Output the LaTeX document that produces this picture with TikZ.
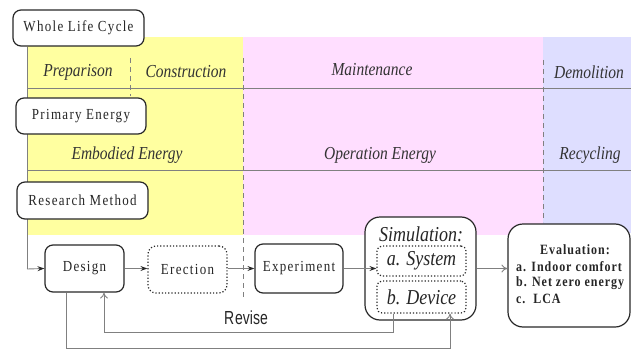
\documentclass[tikz,border=0pt]{standalone}
\usepackage{fontspec}
\usepackage{graphicx}
\setmainfont{Liberation Serif}
\newfontfamily\boxfont[LetterSpace=10]{Liberation Serif}
\newfontfamily\evalfont[LetterSpace=8]{Liberation Serif}
\newfontfamily\revfont{Liberation Sans}
\usetikzlibrary{arrows.meta}
\definecolor{bandY}{RGB}{255,255,160}
\definecolor{bandP}{RGB}{255,222,255}
\definecolor{bandB}{RGB}{222,222,255}
\definecolor{lineG}{RGB}{128,128,128}
\definecolor{boxB}{RGB}{40,40,40}
\newcommand\vst[1]{\scalebox{1}[1.18]{#1}}
\tikzset{
  lab/.style={font=\fontsize{15.5}{18}\selectfont\itshape, text=black!80},
  rbox/.style={draw=boxB, line width=1.2pt, fill=white, rounded corners=8pt,
    font=\boxfont\fontsize{13}{15}\selectfont, text=black!85, inner sep=0pt},
  dbox/.style={draw=boxB, line width=1.2pt, dotted, fill=white, rounded corners=8pt,
    font=\boxfont\fontsize{13}{15}\selectfont, text=black!85, inner sep=0pt},
  bandline/.style={draw=lineG, line width=0.9pt},
  dashline/.style={draw=lineG, line width=0.9pt, dash pattern=on 5pt off 4pt},
  conn/.style={draw=lineG, line width=0.9pt},
  arrS/.style={conn, -{Stealth[length=7pt,width=5pt,inset=2.5pt,color=boxB]}},
  arrO/.style={conn, -{To[length=6pt,width=8pt]}},
}
\begin{document}
\begin{tikzpicture}[x=1pt,y=-1pt]
\useasboundingbox (0,0) rectangle (631,350);
% bands
\fill[bandY] (27,37) rectangle (243,235);
\fill[bandP] (243,37) rectangle (543,235);
\fill[bandB] (543,37) rectangle (631,233);
% horizontal band lines
\draw[bandline] (27,88) -- (631,88);
\draw[bandline] (27,170) -- (631,170);
% dashed separators
\draw[dashline] (130,58) -- (130,96);
\draw[dashline] (243,58) -- (243,298);
\draw[dashline] (543,60) -- (543,222);
% labels
\node[lab] at (78,72) {\vst{Preparison}};
\node[lab] at (186,72) {\vst{Construction}};
\node[lab] at (372,70) {\vst{Maintenance}};
\node[lab] at (589,72) {\vst{Demolition}};
\node[lab] at (127,155) {\vst{Embodied Energy}};
\node[lab] at (380,155) {\vst{Operation Energy}};
\node[lab] at (590,155) {\vst{Recycling}};
% left spine
\coordinate (corner) at (27,269);
% boxes
\node[rbox, minimum width=131pt, minimum height=36pt] (wlc) at (78.5,28) {\vst{Whole Life Cycle}};
\draw[conn] (wlc.south -| corner) -- (corner);
\node[rbox, minimum width=130pt, minimum height=36pt] (pe) at (81,116) {\vst{Primary Energy}};
\node[rbox, minimum width=131pt, minimum height=37pt] (rm) at (82.5,200.5) {\vst{Research Method}};
\node[rbox, minimum width=79pt, minimum height=47pt] (design) at (84.5,268.5) {\vst{Design}};
\node[dbox, minimum width=79pt, minimum height=47pt] (erect) at (187.5,269.5) {\vst{Erection}};
\node[rbox, minimum width=88pt, minimum height=49pt] (exp) at (299,268.5) {\vst{Experiment}};
\node[rbox, rounded corners=15pt, minimum width=111pt, minimum height=103pt] (sim) at (420.5,268.5) {};
\node[font=\fontsize{18}{20}\selectfont\itshape, text=black!85, inner sep=0pt] (simlab) at (421,234) {\vst{Simulation:}};
\node[dbox, rounded corners=5pt, font=\fontsize{18}{20}\selectfont\itshape, minimum width=89pt, minimum height=30pt] (sys) at (421.5,261) {\vst{a. System}};
\node[dbox, rounded corners=5pt, font=\fontsize{18}{20}\selectfont\itshape, minimum width=89pt, minimum height=32pt] (dev) at (421.5,297) {\vst{b. Device}};
\node[rbox, rounded corners=15pt, minimum width=122pt, minimum height=103pt] (eval) at (569,275.5) {};
\node[font=\evalfont\bfseries\fontsize{12}{14}\selectfont, text=black!85, inner sep=0pt] (evt) at (575,250) {\vst{Evaluation:}};
\node[font=\evalfont\bfseries\fontsize{12}{14}\selectfont, text=black!85, inner sep=0pt, anchor=west] (ev1) at (516,267) {\vst{a. Indoor comfort}};
\node[font=\evalfont\bfseries\fontsize{12}{14}\selectfont, text=black!85, inner sep=0pt, anchor=west] (ev2) at (516,283) {\vst{b. Net zero energy}};
\node[font=\evalfont\bfseries\fontsize{12}{14}\selectfont, text=black!85, inner sep=0pt, anchor=west] (ev3) at (516,299) {\vst{c.\ \ LCA}};
% flow arrows
\draw[arrS] (corner) -- (design.west);
\draw[arrS] (design.east) -- (erect.west |- design.east);
\draw[arrS] (erect.east |- design.east) -- (exp.west |- design.east);
\draw[arrS] (exp.east) -- (sys.west |- exp.east);
\draw[arrO] (sim.east) -- (eval.west |- sim.east);
% feedback loops
\coordinate (r1) at (393,332);
\coordinate (r2) at (104,332);
\draw[arrO] (dev.south -| r1) -- (r1) -- (r2) -- (design.south -| r2);
\coordinate (q1) at (66,348);
\coordinate (q2) at (450,348);
\draw[arrO] (design.south -| q1) -- (q1) -- (q2) -- (dev.south -| q2);
\node[font=\revfont\fontsize{14}{16}\selectfont, text=black!85, inner sep=0pt] (rev) at (246,318) {\scalebox{1}[1.35]{R\kern1pt evise}};
\end{tikzpicture}
\end{document}
